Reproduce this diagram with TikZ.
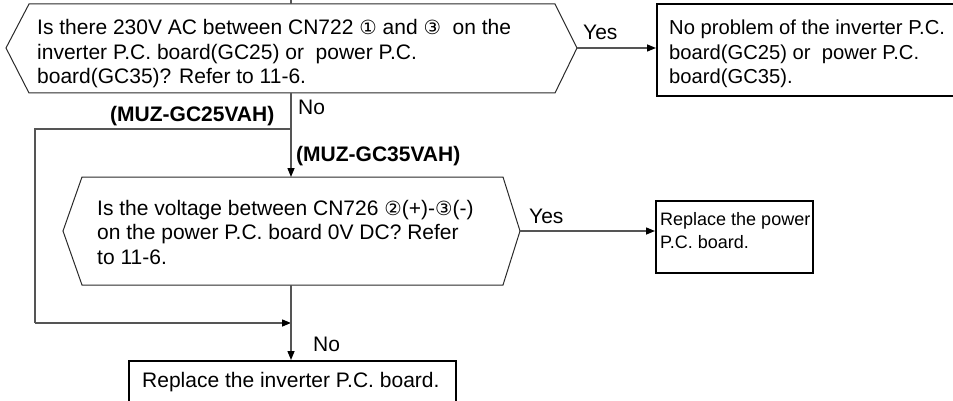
\documentclass[tikz,border=0pt]{standalone}
\usepackage{fontspec}
\setmainfont{Liberation Sans}
\newfontfamily\dvfont{DejaVu Sans}
\usetikzlibrary{arrows.meta}
\definecolor{conn}{HTML}{555555}
\definecolor{edge}{HTML}{2A2A2A}
\newcommand{\cdig}[1]{{\dvfont\fontsize{19.5}{20}\selectfont #1}}
\begin{document}
\begin{tikzpicture}[x=1pt,y=-1pt,
  txt/.style={inner sep=0pt,align=left,anchor=base west,font=\fontsize{21}{24.5}\selectfont},
  mtxt/.style={inner sep=0pt,align=left,anchor=base west,font=\fontsize{20.2}{24.5}\selectfont},
  stxt/.style={inner sep=0pt,align=left,anchor=base west,font=\fontsize{18}{22}\selectfont},
  lbl/.style={inner sep=0pt,anchor=base west,font=\fontsize{21}{24.5}\selectfont},
  blbl/.style={inner sep=0pt,anchor=base west,font=\fontsize{21}{24.5}\selectfont\bfseries},
  hexline/.style={draw=edge,line width=1pt},
  boxline/.style={draw=black,line width=2pt},
  conline/.style={draw=conn,line width=1.4pt},
  arr/.style={conline,-{Triangle[length=9pt,width=7pt,fill=black,color=black]}}]
\useasboundingbox (0,0) rectangle (953,401);
\clip (0,0) rectangle (953,401);
% decision 1
\coordinate (h1n) at (291,4);
\coordinate (h1s) at (291,93);
\coordinate (h1e) at (577,48);
\coordinate (top) at (291,0);
\draw[hexline] (6,48) -- (29,4) -- (555,4) -- (h1e) -- (555,93) -- (29,93) -- cycle;
\node[txt] (t1) at (37,35) {Is there 230V AC between CN722 \cdig{①} and \cdig{③}\ \ on the};
\node[txt] (t1b) at (37,59.5) {inverter P.C. board(GC25) or\ \ power P.C.};
\node[txt] (t1c) at (37,84) {board(GC35)? Refer to 11-6.};
\draw[conline] (top) -- (h1n);
% box 1
\node[boxline,minimum width=300pt,minimum height=92pt,anchor=north west,inner sep=0pt] (b1) at (656,3) {};
\node[mtxt] (b1t) at (669,35) {No problem of the inverter P.C.};
\node[mtxt] (b1u) at (669,59.5) {board(GC25) or\ \ power P.C.};
\node[mtxt] (b1v) at (669,84) {board(GC35).};
\draw[arr] (h1e) -- (h1e -| b1.west);
\node[lbl] (yes1) at (583,40) {Yes};
% no branch
\node[lbl] (no1) at (298,115) {No};
\node[blbl] (m25) at (110,122) {(MUZ-GC25VAH)};
\node[blbl] (m35) at (296,161) {(MUZ-GC35VAH)};
\coordinate (br) at (291,129);
\coordinate (bl) at (35,129);
\coordinate (bb) at (35,323);
\coordinate (join) at (291,323);
% decision 2
\coordinate (h2n) at (291,177);
\coordinate (h2s) at (291,285);
\coordinate (h2e) at (520,231);
\draw[hexline] (63,231) -- (82,177) -- (503,177) -- (h2e) -- (503,285) -- (82,285) -- cycle;
\node[txt] (t2) at (97,215) {Is the voltage between CN726 \cdig{②}(+)-\cdig{③}(-)};
\node[txt] (t2b) at (97,239.5) {on the power P.C. board 0V DC? Refer};
\node[txt] (t2c) at (97,264) {to 11-6.};
\draw[arr] (h1s) -- (h2n);
\draw[conline] (br) -- (bl) -- (bb);
\draw[arr] (bb) -- (join);
% box 2
\node[boxline,minimum width=157pt,minimum height=72pt,anchor=north west,inner sep=0pt] (b2) at (655,200) {};
\node[stxt] (b2t) at (660,225) {Replace the power};
\node[stxt] (b2u) at (660,248) {P.C. board.};
\draw[arr] (h2e) -- (h2e -| b2.west);
\node[lbl] (yes2) at (529,223) {Yes};
% box 3
\node[boxline,minimum width=327pt,minimum height=60pt,anchor=north west,inner sep=0pt] (b3) at (128,360) {};
\node[txt] (b3t) at (142,387) {Replace the inverter P.C. board.};
\draw[arr] (h2s) -- (b3.north -| h2s);
\node[lbl] (no2) at (313,351) {No};
\end{tikzpicture}
\end{document}
